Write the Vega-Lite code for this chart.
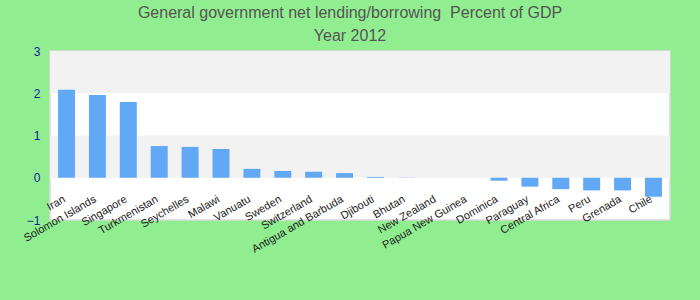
{
  "$schema": "https://vega.github.io/schema/vega-lite/v6.json",
  "autosize": "none",
  "width": 620,
  "height": 169,
  "padding": {"left": 50, "top": 51, "right": 30, "bottom": 80},
  "background": "#90EE90",
  "title": {
    "text": ["General government net lending/borrowing\u00a0 Percent of GDP", "Year 2012"],
    "font": "Liberation Sans",
    "fontSize": 16,
    "fontWeight": "normal",
    "color": "#555555",
    "lineHeight": 23,
    "offset": 1,
    "dx": -10,
    "anchor": "middle"
  },
  "config": {
    "view": {"stroke": "#d9d9d9", "strokeWidth": 1.5, "fill": "#ffffff"},
    "font": "Liberation Sans"
  },
  "datasets": {
    "bars": [
      {"country": "Iran", "value": 2.08},
      {"country": "Solomon Islands", "value": 1.96},
      {"country": "Singapore", "value": 1.79},
      {"country": "Turkmenistan", "value": 0.75},
      {"country": "Seychelles", "value": 0.73},
      {"country": "Malawi", "value": 0.68},
      {"country": "Vanuatu", "value": 0.21},
      {"country": "Sweden", "value": 0.16},
      {"country": "Switzerland", "value": 0.14},
      {"country": "Antigua and Barbuda", "value": 0.11},
      {"country": "Djibouti", "value": 0.02},
      {"country": "Bhutan", "value": 0.005},
      {"country": "New Zealand", "value": 0.0},
      {"country": "Papua New Guinea", "value": 0.0},
      {"country": "Dominica", "value": -0.07},
      {"country": "Paraguay", "value": -0.21},
      {"country": "Central Africa", "value": -0.27},
      {"country": "Peru", "value": -0.3},
      {"country": "Grenada", "value": -0.3},
      {"country": "Chile", "value": -0.45}
    ],
    "bands": [
      {"from": 2, "to": 3},
      {"from": 0, "to": 1}
    ]
  },
  "layer": [
    {
      "data": {"name": "bands"},
      "mark": {"type": "rect", "color": "#f2f2f2"},
      "encoding": {
        "y": {"field": "from", "type": "quantitative", "scale": {"domain": [-1, 3], "nice": false}},
        "y2": {"field": "to"}
      }
    },
    {
      "data": {"name": "bars"},
      "mark": {"type": "bar", "color": "#62a9f5"},
      "encoding": {
        "x": {
          "field": "country",
          "type": "nominal",
          "sort": null,
          "scale": {"paddingInner": 0.45, "paddingOuter": 0.26},
          "axis": {
            "title": null,
            "domain": false,
            "ticks": false,
            "labelAngle": -30,
            "labelAlign": "right",
            "labelBaseline": "top",
            "labelFontSize": 11,
            "labelColor": "#222222",
            "labelPadding": 15,
            "labelOffset": -5,
            "offset": -42,
            "labelOverlap": false
          }
        },
        "y": {
          "field": "value",
          "type": "quantitative",
          "scale": {"domain": [-1, 3], "nice": false},
          "axis": {
            "title": null,
            "values": [-1, 0, 1, 2, 3],
            "domain": false,
            "ticks": false,
            "grid": false,
            "labelColor": "#1a1a9a",
            "labelFontSize": 12,
            "labelPadding": 10
          }
        }
      }
    },
    {
      "mark": {"type": "rule", "color": "#00008b", "strokeWidth": 1.5},
      "encoding": {"y": {"datum": 0}}
    }
  ]
}
